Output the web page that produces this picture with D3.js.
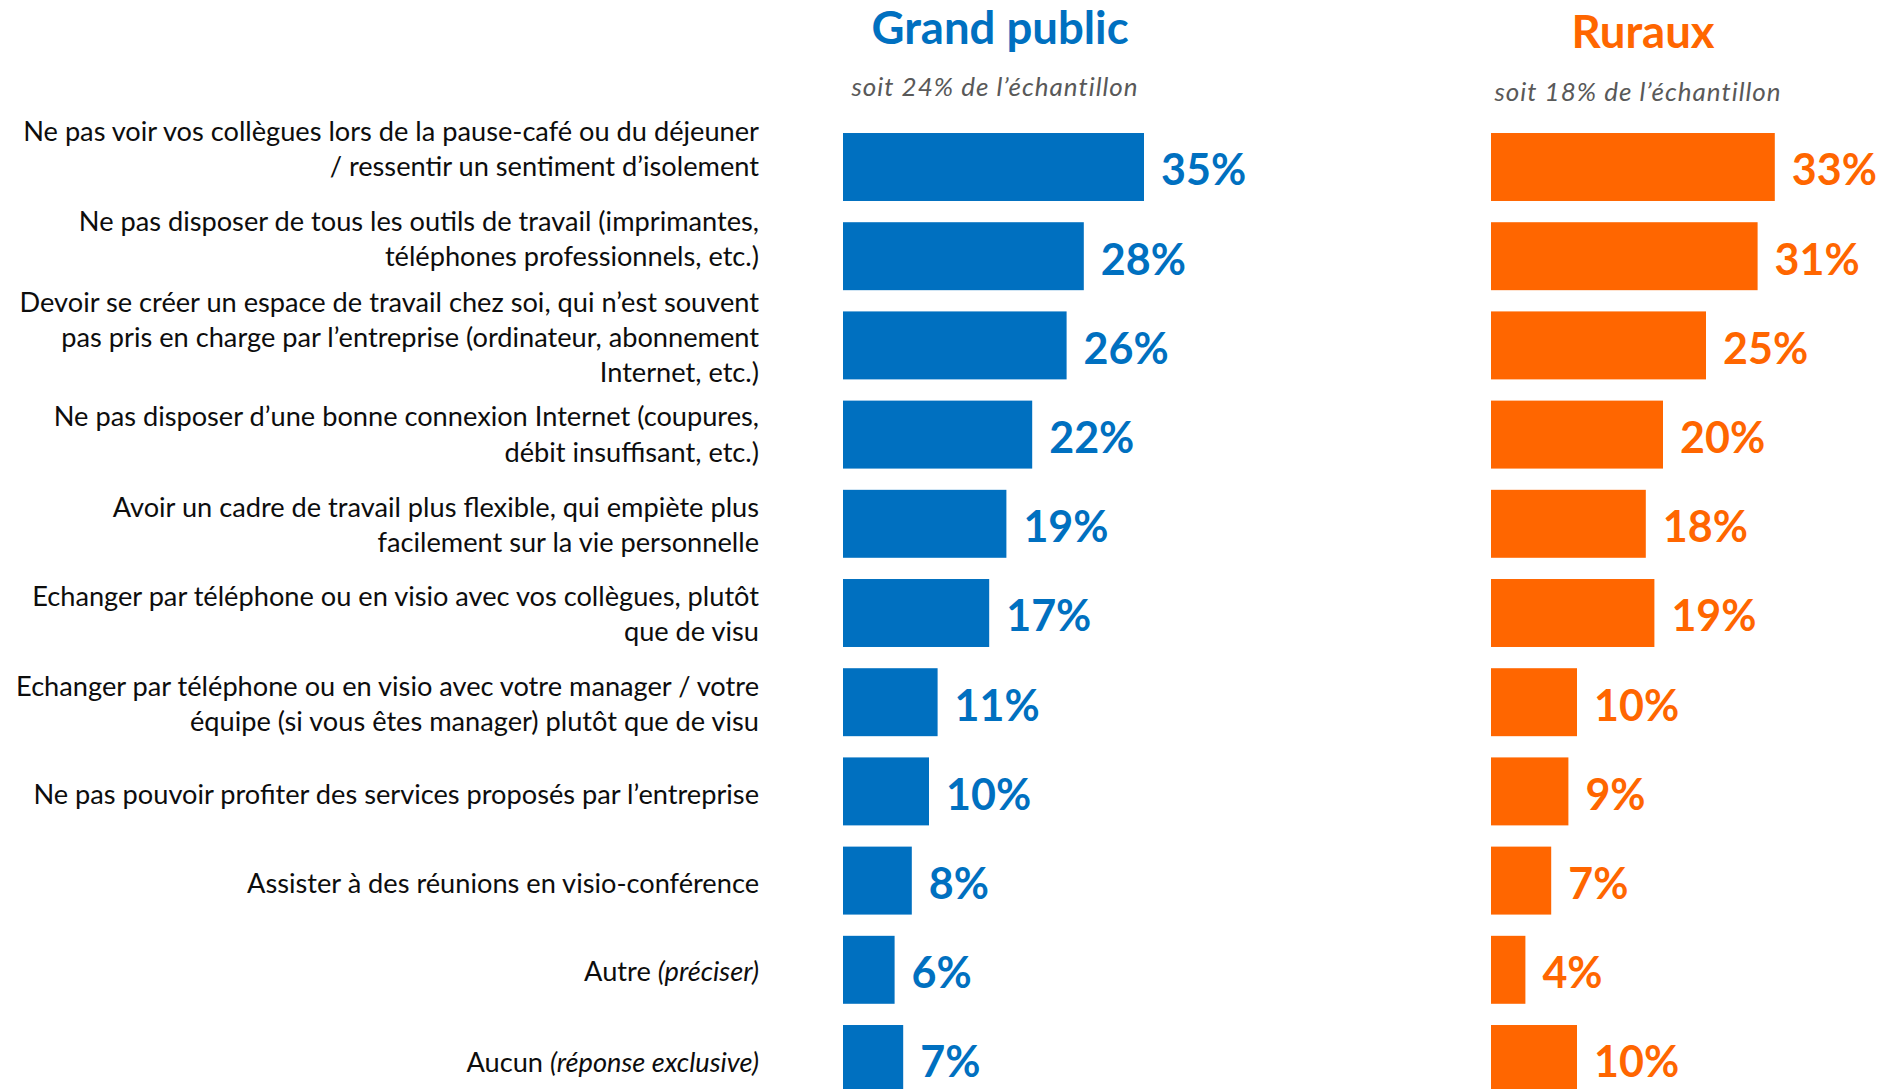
<!DOCTYPE html>
<html>
<head>
<meta charset="utf-8">
<script src="https://cdn.jsdelivr.net/npm/d3@7"></script>
<style>
  html, body { margin: 0; padding: 0; background: #fff; }
  svg { display: block; font-family: Lato, "Open Sans", sans-serif; }
</style>
</head>
<body>
<svg id="chart"></svg>
<script>
// categories (each one split into its lines as in the original)
var categories = [
  ["Ne pas voir vos collègues lors de la pause-café ou du déjeuner", "/ ressentir un sentiment d’isolement"],
  ["Ne pas disposer de tous les outils de travail (imprimantes,", "téléphones professionnels, etc.)"],
  ["Devoir se créer un espace de travail chez soi, qui n’est souvent", "pas pris en charge par l’entreprise (ordinateur, abonnement", "Internet, etc.)"],
  ["Ne pas disposer d’une bonne connexion Internet (coupures,", "débit insuffisant, etc.)"],
  ["Avoir un cadre de travail plus flexible, qui empiète plus", "facilement sur la vie personnelle"],
  ["Echanger par téléphone ou en visio avec vos collègues, plutôt", "que de visu"],
  ["Echanger par téléphone ou en visio avec votre manager / votre", "équipe (si vous êtes manager) plutôt que de visu"],
  ["Ne pas pouvoir profiter des services proposés par l’entreprise"],
  ["Assister à des réunions en visio-conférence"],
  ["Autre |(préciser)"],
  ["Aucun |(réponse exclusive)"]
];
var grandPublic = [35, 28, 26, 22, 19, 17, 11, 10, 8, 6, 7];
var ruraux      = [33, 31, 25, 20, 18, 19, 10, 9, 7, 4, 10];
var seriesNames = ["Grand public", "Ruraux"];
var seriesShares = ["soit 24% de l’échantillon", "soit 18% de l’échantillon"];

var width = 1880, height = 1089;
var svg = d3.select("#chart").attr("width", width).attr("height", height);

// scales
var x = d3.scaleLinear().domain([0, 35]).range([0, 301]);
var y = d3.scaleBand()
    .domain(d3.range(categories.length))
    .range([122.4, 122.4 + categories.length * 89.2])
    .paddingInner(0.238)
    .paddingOuter(0.119);

// small nudges of the label block (the top labels sit a bit higher than their bars)
var labelNudge = [-18, -17, -8, 0, 1, 1, 2, 3, 3, 2, 3];
var lineH = 35.4;

// category labels
var labels = svg.append("g").attr("class", "labels");
categories.forEach(function(lines, i) {
  var cy = y(i) + y.bandwidth() / 2 + labelNudge[i];
  var t = labels.append("text")
      .attr("x", 759)
      .attr("text-anchor", "end")
      .style("font-size", "27.2px")
      .style("fill", "#0d0d0d");
  lines.forEach(function(line, k) {
    var yy = cy + (k - (lines.length - 1) / 2) * lineH;
    var parts = line.split("|");
    t.append("tspan").attr("x", 759).attr("y", yy).attr("dy", "0.35em").text(parts[0]);
    if (parts.length > 1) {
      t.append("tspan").style("font-style", "italic").text(parts[1]);
    }
  });
});

// one panel per series
var panels = [
  {name: seriesNames[0], share: seriesShares[0], values: grandPublic, x0: 843, color: "#0070C0", titleY: 44, subY: 96, cx: 1000},
  {name: seriesNames[1], share: seriesShares[1], values: ruraux, x0: 1491, color: "#FF6600", titleY: 48, subY: 101, cx: 1643}
];

panels.forEach(function(p) {
  var g = svg.append("g").attr("transform", "translate(" + p.x0 + ",0)");

  svg.append("text")
      .attr("x", p.cx)
      .attr("y", p.titleY)
      .attr("text-anchor", "middle")
      .style("font-weight", "bold")
      .style("font-size", "45.5px")
      .style("fill", p.color)
      .text(p.name);

  svg.append("text")
      .attr("x", p.cx - 5)
      .attr("y", p.subY)
      .attr("text-anchor", "middle")
      .style("font-style", "italic")
      .style("font-size", "26px")
      .style("letter-spacing", "1px")
      .style("fill", "#595959")
      .text(p.share);

  g.selectAll("rect")
      .data(p.values)
    .enter().append("rect")
      .attr("x", 0)
      .attr("y", function(d, i) { return y(i); })
      .attr("width", function(d) { return x(d); })
      .attr("height", y.bandwidth())
      .attr("fill", p.color);

  g.selectAll(".val")
      .data(p.values)
    .enter().append("text")
      .attr("class", "val")
      .attr("x", function(d) { return x(d) + 17; })
      .attr("y", function(d, i) { return y(i) + y.bandwidth() / 2 + 3; })
      .attr("dy", "0.36em")
      .style("font-weight", "bold")
      .style("font-size", "43px")
      .style("fill", p.color)
      .text(function(d) { return d + "%"; });
});
</script>
</body>
</html>
